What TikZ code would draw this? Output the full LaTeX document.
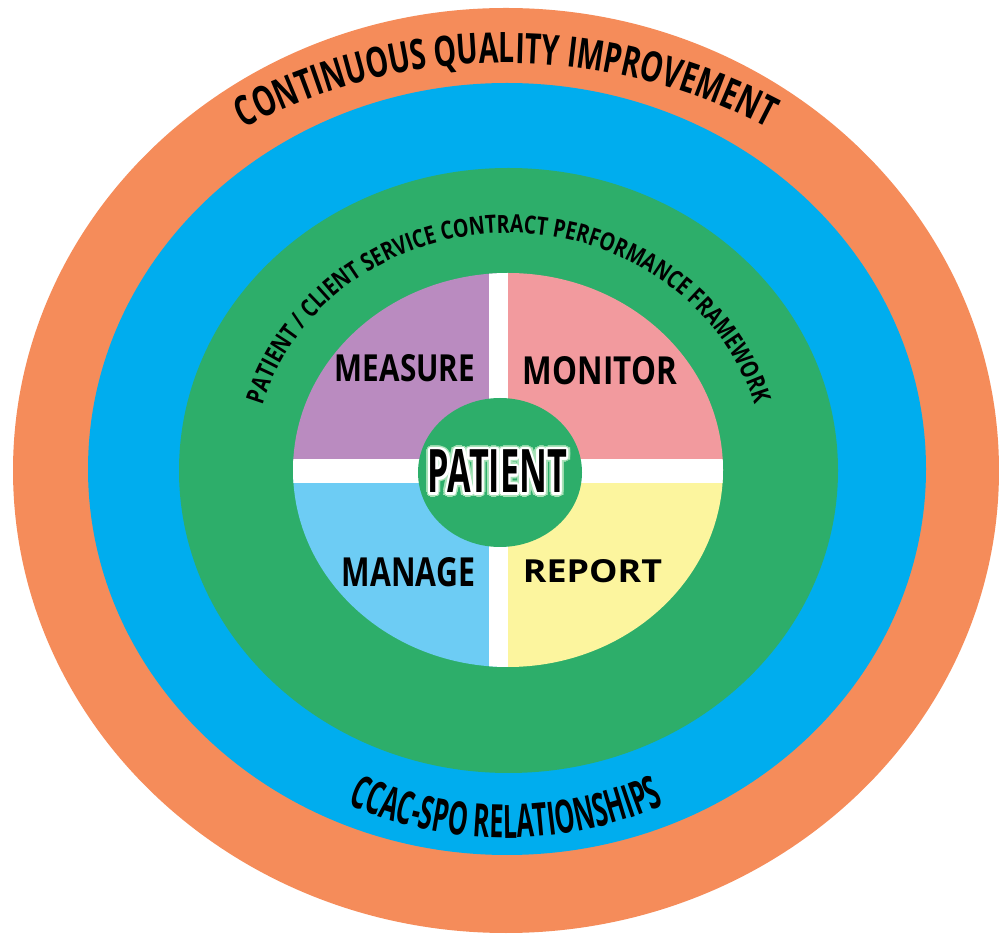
\documentclass[tikz,border=0pt]{standalone}
\usepackage{fontspec}
\newfontfamily\lblfont{Open Sans}
\definecolor{ringorange}{HTML}{F58C5A}
\definecolor{ringblue}{HTML}{00ADEE}
\definecolor{ringgreen}{HTML}{2DAE6A}
\definecolor{qpurple}{HTML}{BA8BC0}
\definecolor{qpink}{HTML}{F29A9E}
\definecolor{qblue}{HTML}{6DCCF4}
\definecolor{qyellow}{HTML}{FCF59E}
\definecolor{glowgreen}{HTML}{A8E2B8}
\newcommand\fitlabel[3]{\resizebox{#1pt}{#2pt}{\lblfont\bfseries #3}}
\tikzset{
  qlabel/.style={inner sep=0pt, text=black},
  arcchar/.style={inner sep=0pt, anchor=base, text=black}
}
\newlength\chw
% measure each character of \plist in \pfont (outside the picture)
\newcommand\measurelist[1]{%
  \gdef\totw{0}%
  \foreach \ch [count=\ci] in \plist {%
    \settowidth\chw{\pfont\ch}%
    \pgfmathsetmacro\tmpw{\totw+\chw}%
    \xdef\totw{\tmpw}%
    \expandafter\xdef\csname wd#1\ci\endcsname{\the\chw}%
  }%
  \expandafter\xdef\csname tot#1\endcsname{\totw}%
}
% characters along a circular arc, filling it from \pstart to \pend
\newcommand\placecirc[1]{%
  \pgfmathsetmacro\arclen{abs(\pend-\pstart)*pi/180*\pR}%
  \pgfmathsetmacro\psx{\arclen/\csname tot#1\endcsname}%
  \gdef\cum{0}%
  \foreach \ch [count=\ci] in \plist {%
    \pgfmathsetmacro\wsc{\csname wd#1\ci\endcsname*\psx}%
    \pgfmathsetmacro\ang{\pstart + \pdir*((\cum+\wsc/2)/\pR)*180/pi}%
    \pgfmathsetmacro\rotc{\ang + \pdir*90}%
    \node[arcchar, rotate=\rotc, xscale=\psx] (#1\ci) at ([shift={(\ang:\pR pt)}]\pc) {\pfont\ch};
    \pgfmathsetmacro\tmpw{\cum+\wsc}%
    \xdef\cum{\tmpw}%
  }%
}
% characters along an elliptical arc (parameter decreasing from \pstart to \pend)
\newcommand\placeellip[1]{%
  \gdef\arclen{0}%
  \pgfmathsetmacro\dstep{((\pstart-\pend)/60)*pi/180}%
  \foreach \k in {1,...,60}{%
    \pgfmathsetmacro\tq{\pend + (\k-0.5)*((\pstart-\pend)/60)}%
    \pgfmathsetmacro\tmpw{\arclen + 100*sqrt((\prx/100*sin(\tq))^2+(\pry/100*cos(\tq))^2)*\dstep}%
    \xdef\arclen{\tmpw}%
  }%
  \pgfmathsetmacro\psx{\arclen/\csname tot#1\endcsname}%
  \xdef\tcur{\pstart}%
  \foreach \ch [count=\ci] in \plist {%
    \pgfmathsetmacro\wsc{\csname wd#1\ci\endcsname*\psx}%
    \pgfmathsetmacro\spd{100*sqrt((\prx/100*sin(\tcur))^2+(\pry/100*cos(\tcur))^2)}%
    \pgfmathsetmacro\tcc{\tcur - ((\wsc/2)/\spd)*180/pi}%
    \pgfmathsetmacro\spd{100*sqrt((\prx/100*sin(\tcc))^2+(\pry/100*cos(\tcc))^2)}%
    \pgfmathsetmacro\tnx{\tcur - (\wsc/\spd)*180/pi}%
    \pgfmathsetmacro\rotc{atan2(-\pry*cos(\tcc), \prx*sin(\tcc))}%
    \node[arcchar, rotate=\rotc, xscale=\psx] (#1\ci) at ([shift={(\tcc:\prx pt and \pry pt)}]\pc) {\pfont\ch};
    \xdef\tcur{\tnx}%
  }%
}
\def\fontcqi{\lblfont\bfseries\fontsize{42}{42}\selectfont}
\def\listcqi{C,O,N,T,I,N,U,O,U,S,~,Q,U,A,L,I,T,Y,~,I,M,P,R,O,V,E,M,E,N,T}
\def\fontfrm{\lblfont\bfseries\fontsize{25}{25}\selectfont}
\def\listfrm{P,A,T,I,E,N,T,~,/,~,C,L,I,E,N,T,~,S,E,R,V,I,C,E,~,C,O,N,T,R,A,C,T,~,P,E,R,F,O,R,M,A,N,C,E,~,F,R,A,M,E,W,O,R,K}
\def\fontccac{\lblfont\bfseries\fontsize{46}{46}\selectfont}
\def\listccac{C,C,A,C,-,S,P,O,~,R,E,L,A,T,I,O,N,S,H,I,P,S}
\begin{document}%
\let\pfont\fontcqi\let\plist\listcqi\measurelist{cqi}%
\let\pfont\fontfrm\let\plist\listfrm\measurelist{frm}%
\let\pfont\fontccac\let\plist\listccac\measurelist{ccac}%
\begin{tikzpicture}[x=1pt,y=1pt]
\useasboundingbox (0,0) rectangle (999,935);
\fill[white] (0,0) rectangle (999,935);
% rings
\fill[ringorange] (506,464.5) ellipse [x radius=493pt, y radius=462.5pt];
\fill[ringblue] (507,466) ellipse [x radius=419pt, y radius=386pt];
\fill[ringgreen] (508.5,464.5) ellipse [x radius=329.5pt, y radius=302.5pt];
% quadrants
\begin{scope}
  \clip (508,465) ellipse [x radius=215pt, y radius=197pt];
  \fill[qpurple] (280,464) rectangle (498.5,680);
  \fill[qpink] (498.5,464) rectangle (740,680);
  \fill[qblue] (280,250) rectangle (498.5,464);
  \fill[qyellow] (498.5,250) rectangle (740,464);
  \fill[white] (489,250) rectangle (508,680);
  \fill[white] (280,452) rectangle (740,476);
\end{scope}
\fill[ringgreen] (500,462.5) ellipse [x radius=82pt, y radius=74.5pt];
% quadrant labels
\node[qlabel] (measure) at (405,566.5) {\fitlabel{140}{27}{MEASURE}};
\node[qlabel] (monitor) at (600,564) {\fitlabel{154}{28}{MONITOR}};
\node[qlabel] (manage) at (408.5,362.5) {\fitlabel{133}{29}{MANAGE}};
\node[qlabel] (report) at (592.5,363.5) {\fitlabel{139}{23}{REPORT}};
% patient
\coordinate (pc) at (497.5,463.5);
\foreach \a in {0,30,...,330}
  \node[qlabel,text=glowgreen] (pg\a) at ([shift={(\a:4.5pt)}]pc) {\fitlabel{139}{43}{PATIENT}};
\foreach \a in {0,30,...,330}
  \node[qlabel,text=white] (pw\a) at ([shift={(\a:2.6pt)}]pc) {\fitlabel{139}{43}{PATIENT}};
\node[qlabel] (patient) at (pc) {\fitlabel{139}{43}{PATIENT}};
% curved texts
\coordinate (c1) at (506,312);
\coordinate (c2) at (508.5,464.5);
\coordinate (c3) at (506,492);
% CONTINUOUS QUALITY IMPROVEMENT
\def\pc{c1}\def\pR{560}\def\pstart{117.9}\def\pend{62.1}\def\pdir{-1}%
\let\pfont\fontcqi\let\plist\listcqi
\placecirc{cqi}
% PATIENT / CLIENT SERVICE CONTRACT PERFORMANCE FRAMEWORK
\def\pc{c2}\def\prx{256}\def\pry{237.5}\def\pstart{164}\def\pend{16}%
\let\pfont\fontfrm\let\plist\listfrm
\placeellip{frm}
% CCAC-SPO RELATIONSHIPS
\def\pc{c3}\def\pR{395}\def\pstart{246.3}\def\pend{293.7}\def\pdir{1}%
\let\pfont\fontccac\let\plist\listccac
\placecirc{ccac}
\end{tikzpicture}
\end{document}
